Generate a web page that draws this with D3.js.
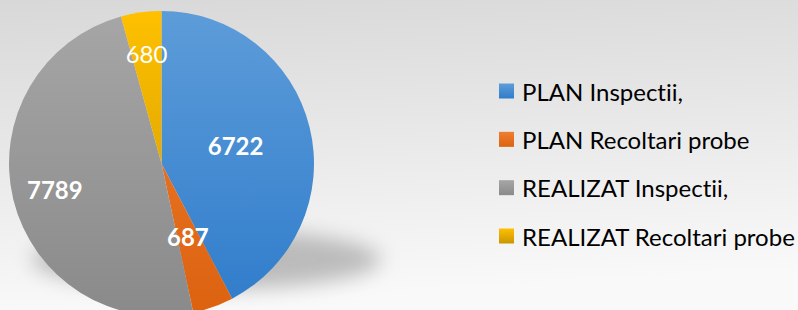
<!DOCTYPE html>
<html lang="ro">
<head>
<meta charset="UTF-8">
<title>Pie - inspectii si probe</title>
<script src="https://d3js.org/d3.v7.min.js"></script>
<style>
body { margin: 0; }
svg { display: block; font-family: 'Lato', 'Open Sans', sans-serif; font-variant-ligatures: none; }
.label { fill: #fff; text-anchor: middle; dominant-baseline: central; }
.legend text { fill: #000; dominant-baseline: central; }
</style>
</head>
<body>
<svg width="798" height="310"></svg>
<script>
// data
var categories = ["PLAN Inspectii,", "PLAN Recoltari probe", "REALIZAT Inspectii,", "REALIZAT Recoltari probe"];
var values = [6722, 687, 7789, 680];
var colorsTop = ["#5d9cd9", "#ee7e32", "#a6a6a6", "#ffc000"];
var colorsBottom = ["#2f7ccb", "#dc620f", "#8a8a8a", "#c99600"];

// where each label sits along its slice (fraction of radius), like excel best fit
var labelPos = [0.5, 0.51, 0.72, 0.73];
var labelWeight = [700, 700, 700, 400];

var svg = d3.select("svg"),
    W = 798, H = 310,
    cx = 161.5, cy = 163.5, r = 152.5;

var defs = svg.append("defs");

var bg = defs.append("linearGradient")
    .attr("id", "bg").attr("x1", 0).attr("y1", 0).attr("x2", 0.15).attr("y2", 1);
bg.append("stop").attr("offset", 0).attr("stop-color", "#d8d8d8");
bg.append("stop").attr("offset", 1).attr("stop-color", "#f9f9f9");

defs.append("filter").attr("id", "blur")
    .attr("x", "-30%").attr("y", "-100%").attr("width", "160%").attr("height", "300%")
    .append("feGaussianBlur").attr("stdDeviation", 10);

// slice gradients, in the pie group's coordinates
categories.forEach(function(c, i) {
    var sg = defs.append("linearGradient")
        .attr("id", "slice" + i)
        .attr("gradientUnits", "userSpaceOnUse")
        .attr("x1", 0).attr("x2", 0)
        .attr("y1", -r).attr("y2", r);
    sg.append("stop").attr("offset", 0).attr("stop-color", colorsTop[i]);
    sg.append("stop").attr("offset", 1).attr("stop-color", colorsBottom[i]);

    var lg = defs.append("linearGradient")
        .attr("id", "leg" + i).attr("x1", 0).attr("x2", 0).attr("y1", 0).attr("y2", 1);
    lg.append("stop").attr("offset", 0).attr("stop-color", colorsTop[i]);
    lg.append("stop").attr("offset", 1).attr("stop-color", colorsBottom[i]);
});

svg.append("rect").attr("width", W).attr("height", H).attr("fill", "url(#bg)");

// perspective shadow under the pie
svg.append("ellipse")
    .attr("cx", cx + 45).attr("cy", cy + 96)
    .attr("rx", r + 22).attr("ry", 30)
    .attr("fill", "#8c8c8c").attr("opacity", 0.55)
    .attr("filter", "url(#blur)");

var pie = d3.pie().sort(null).value(function(d) { return d; });
var arc = d3.arc().innerRadius(0).outerRadius(r);
var arcs = pie(values);

var g = svg.append("g").attr("transform", "translate(" + cx + "," + cy + ")");

g.selectAll("path")
    .data(arcs)
    .enter()
    .append("path")
    .attr("d", arc)
    .attr("fill", function(d, i) { return "url(#slice" + i + ")"; });

g.selectAll("text")
    .data(arcs)
    .enter()
    .append("text")
    .attr("class", "label")
    .attr("transform", function(d, i) {
        var a = (d.startAngle + d.endAngle) / 2,
            k = r * labelPos[i];
        return "translate(" + (Math.sin(a) * k) + "," + (-Math.cos(a) * k) + ")";
    })
    .attr("font-size", 24)
    .attr("font-weight", function(d, i) { return labelWeight[i]; })
    .text(function(d) { return d.data; });

var legend = svg.append("g").attr("class", "legend");
var ly = d3.scalePoint().domain(categories).range([91, 236]);

var item = legend.selectAll("g")
    .data(categories)
    .enter()
    .append("g")
    .attr("transform", function(d) { return "translate(499," + ly(d) + ")"; });

item.append("rect")
    .attr("x", 0).attr("y", -7.5)
    .attr("width", 15).attr("height", 15)
    .attr("fill", function(d, i) { return "url(#leg" + i + ")"; });

item.append("text")
    .attr("x", 23).attr("y", 0)
    .attr("font-size", 24)
    .text(function(d) { return d; });
</script>
</body>
</html>
